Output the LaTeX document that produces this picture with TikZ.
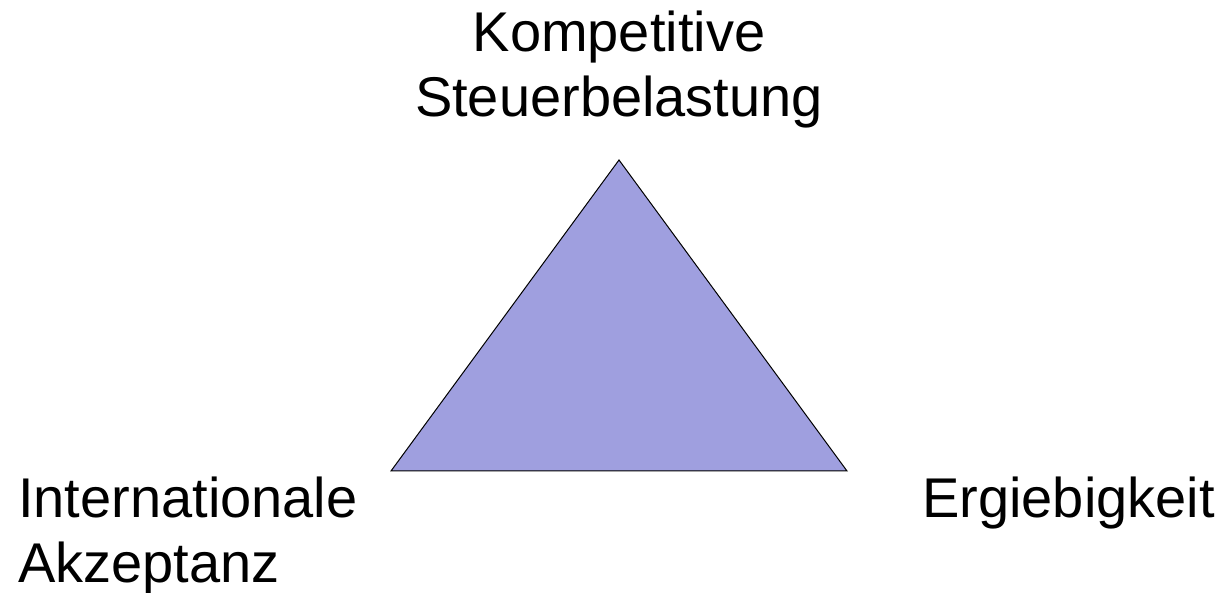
\documentclass[tikz,border=0pt]{standalone}
\usepackage{fontspec}
\setmainfont{Liberation Sans}
\definecolor{trifill}{HTML}{9F9FDF}
\begin{document}
\begin{tikzpicture}[x=1pt,y=1pt,
  lbl/.style={inner sep=0pt, align=center, font=\fontsize{56}{65}\selectfont},
  lbll/.style={inner sep=0pt, align=left, font=\fontsize{56}{65}\selectfont}]
\useasboundingbox (0,0) rectangle (1222,593);
\coordinate (A) at (619,433);
\coordinate (B) at (391,122);
\coordinate (C) at (847,122);
\filldraw[fill=trifill, draw=black, line width=1pt, line join=miter] (A) -- (B) -- (C) -- cycle;
\node[lbl, anchor=base] (top) at (619,476) {Kompetitive\\Steuerbelastung};
\node[lbll, anchor=base west] (left) at (18,10) {Internationale\\Akzeptanz};
\node[lbl, anchor=base west] (right) at (922,75) {Ergiebigkeit};
\end{tikzpicture}
\end{document}
